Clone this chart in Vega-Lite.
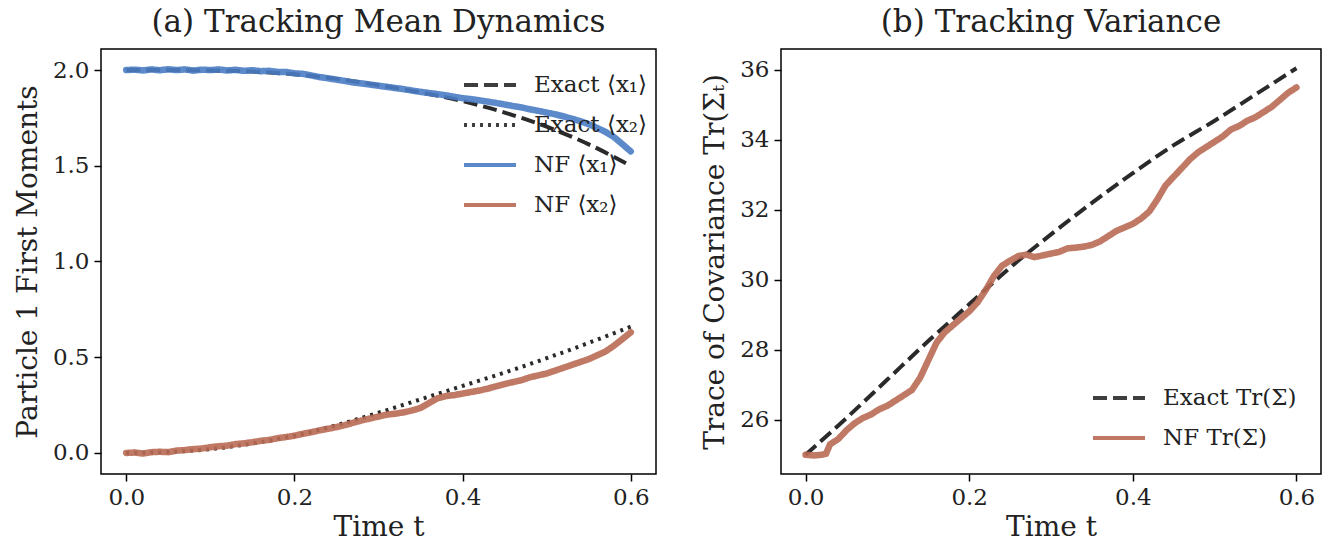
{
  "$schema": "https://vega.github.io/schema/vega-lite/v6.json",
  "background": "white",
  "padding": {"left": 13, "top": 6, "right": 5, "bottom": 0},
  "datasets": {
    "leftExact": [
      {"t": 0.0, "v": 2.0, "series": "Exact ⟨x₁⟩"},
      {"t": 0.05, "v": 2.0, "series": "Exact ⟨x₁⟩"},
      {"t": 0.1, "v": 1.998, "series": "Exact ⟨x₁⟩"},
      {"t": 0.15, "v": 1.992, "series": "Exact ⟨x₁⟩"},
      {"t": 0.2, "v": 1.978, "series": "Exact ⟨x₁⟩"},
      {"t": 0.25, "v": 1.954, "series": "Exact ⟨x₁⟩"},
      {"t": 0.3, "v": 1.921, "series": "Exact ⟨x₁⟩"},
      {"t": 0.35, "v": 1.883, "series": "Exact ⟨x₁⟩"},
      {"t": 0.4, "v": 1.838, "series": "Exact ⟨x₁⟩"},
      {"t": 0.45, "v": 1.778, "series": "Exact ⟨x₁⟩"},
      {"t": 0.5, "v": 1.704, "series": "Exact ⟨x₁⟩"},
      {"t": 0.55, "v": 1.612, "series": "Exact ⟨x₁⟩"},
      {"t": 0.6, "v": 1.5, "series": "Exact ⟨x₁⟩"},
      {"t": 0.0, "v": 0.0, "series": "Exact ⟨x₂⟩"},
      {"t": 0.05, "v": 0.005, "series": "Exact ⟨x₂⟩"},
      {"t": 0.1, "v": 0.02, "series": "Exact ⟨x₂⟩"},
      {"t": 0.15, "v": 0.05, "series": "Exact ⟨x₂⟩"},
      {"t": 0.2, "v": 0.09, "series": "Exact ⟨x₂⟩"},
      {"t": 0.25, "v": 0.145, "series": "Exact ⟨x₂⟩"},
      {"t": 0.3, "v": 0.21, "series": "Exact ⟨x₂⟩"},
      {"t": 0.35, "v": 0.28, "series": "Exact ⟨x₂⟩"},
      {"t": 0.4, "v": 0.35, "series": "Exact ⟨x₂⟩"},
      {"t": 0.45, "v": 0.42, "series": "Exact ⟨x₂⟩"},
      {"t": 0.5, "v": 0.495, "series": "Exact ⟨x₂⟩"},
      {"t": 0.55, "v": 0.575, "series": "Exact ⟨x₂⟩"},
      {"t": 0.6, "v": 0.66, "series": "Exact ⟨x₂⟩"}
    ],
    "leftNF": [
      {"t": 0.0, "v": 2.0, "series": "NF ⟨x₁⟩"},
      {"t": 0.01, "v": 2.002, "series": "NF ⟨x₁⟩"},
      {"t": 0.02, "v": 1.998, "series": "NF ⟨x₁⟩"},
      {"t": 0.03, "v": 2.003, "series": "NF ⟨x₁⟩"},
      {"t": 0.04, "v": 1.999, "series": "NF ⟨x₁⟩"},
      {"t": 0.05, "v": 2.004, "series": "NF ⟨x₁⟩"},
      {"t": 0.06, "v": 2.0, "series": "NF ⟨x₁⟩"},
      {"t": 0.07, "v": 2.003, "series": "NF ⟨x₁⟩"},
      {"t": 0.08, "v": 1.997, "series": "NF ⟨x₁⟩"},
      {"t": 0.09, "v": 2.002, "series": "NF ⟨x₁⟩"},
      {"t": 0.1, "v": 2.0, "series": "NF ⟨x₁⟩"},
      {"t": 0.11, "v": 2.003, "series": "NF ⟨x₁⟩"},
      {"t": 0.12, "v": 1.998, "series": "NF ⟨x₁⟩"},
      {"t": 0.13, "v": 2.001, "series": "NF ⟨x₁⟩"},
      {"t": 0.14, "v": 1.996, "series": "NF ⟨x₁⟩"},
      {"t": 0.15, "v": 1.999, "series": "NF ⟨x₁⟩"},
      {"t": 0.16, "v": 1.994, "series": "NF ⟨x₁⟩"},
      {"t": 0.17, "v": 1.996, "series": "NF ⟨x₁⟩"},
      {"t": 0.18, "v": 1.99, "series": "NF ⟨x₁⟩"},
      {"t": 0.19, "v": 1.99, "series": "NF ⟨x₁⟩"},
      {"t": 0.2, "v": 1.983, "series": "NF ⟨x₁⟩"},
      {"t": 0.21, "v": 1.98, "series": "NF ⟨x₁⟩"},
      {"t": 0.22, "v": 1.972, "series": "NF ⟨x₁⟩"},
      {"t": 0.23, "v": 1.963, "series": "NF ⟨x₁⟩"},
      {"t": 0.24, "v": 1.957, "series": "NF ⟨x₁⟩"},
      {"t": 0.25, "v": 1.95, "series": "NF ⟨x₁⟩"},
      {"t": 0.26, "v": 1.943, "series": "NF ⟨x₁⟩"},
      {"t": 0.27, "v": 1.935, "series": "NF ⟨x₁⟩"},
      {"t": 0.28, "v": 1.93, "series": "NF ⟨x₁⟩"},
      {"t": 0.29, "v": 1.924, "series": "NF ⟨x₁⟩"},
      {"t": 0.3, "v": 1.918, "series": "NF ⟨x₁⟩"},
      {"t": 0.31, "v": 1.912, "series": "NF ⟨x₁⟩"},
      {"t": 0.32, "v": 1.906, "series": "NF ⟨x₁⟩"},
      {"t": 0.33, "v": 1.9, "series": "NF ⟨x₁⟩"},
      {"t": 0.34, "v": 1.893, "series": "NF ⟨x₁⟩"},
      {"t": 0.35, "v": 1.886, "series": "NF ⟨x₁⟩"},
      {"t": 0.36, "v": 1.88, "series": "NF ⟨x₁⟩"},
      {"t": 0.37, "v": 1.874, "series": "NF ⟨x₁⟩"},
      {"t": 0.38, "v": 1.868, "series": "NF ⟨x₁⟩"},
      {"t": 0.39, "v": 1.86, "series": "NF ⟨x₁⟩"},
      {"t": 0.4, "v": 1.853, "series": "NF ⟨x₁⟩"},
      {"t": 0.41, "v": 1.848, "series": "NF ⟨x₁⟩"},
      {"t": 0.42, "v": 1.842, "series": "NF ⟨x₁⟩"},
      {"t": 0.43, "v": 1.835, "series": "NF ⟨x₁⟩"},
      {"t": 0.44, "v": 1.828, "series": "NF ⟨x₁⟩"},
      {"t": 0.45, "v": 1.82, "series": "NF ⟨x₁⟩"},
      {"t": 0.46, "v": 1.812, "series": "NF ⟨x₁⟩"},
      {"t": 0.47, "v": 1.805, "series": "NF ⟨x₁⟩"},
      {"t": 0.48, "v": 1.795, "series": "NF ⟨x₁⟩"},
      {"t": 0.49, "v": 1.787, "series": "NF ⟨x₁⟩"},
      {"t": 0.5, "v": 1.778, "series": "NF ⟨x₁⟩"},
      {"t": 0.51, "v": 1.769, "series": "NF ⟨x₁⟩"},
      {"t": 0.52, "v": 1.758, "series": "NF ⟨x₁⟩"},
      {"t": 0.53, "v": 1.746, "series": "NF ⟨x₁⟩"},
      {"t": 0.54, "v": 1.733, "series": "NF ⟨x₁⟩"},
      {"t": 0.55, "v": 1.717, "series": "NF ⟨x₁⟩"},
      {"t": 0.56, "v": 1.698, "series": "NF ⟨x₁⟩"},
      {"t": 0.57, "v": 1.677, "series": "NF ⟨x₁⟩"},
      {"t": 0.58, "v": 1.65, "series": "NF ⟨x₁⟩"},
      {"t": 0.59, "v": 1.613, "series": "NF ⟨x₁⟩"},
      {"t": 0.6, "v": 1.575, "series": "NF ⟨x₁⟩"},
      {"t": 0.0, "v": 0.0, "series": "NF ⟨x₂⟩"},
      {"t": 0.01, "v": 0.002, "series": "NF ⟨x₂⟩"},
      {"t": 0.02, "v": -0.003, "series": "NF ⟨x₂⟩"},
      {"t": 0.03, "v": 0.004, "series": "NF ⟨x₂⟩"},
      {"t": 0.04, "v": 0.006, "series": "NF ⟨x₂⟩"},
      {"t": 0.05, "v": 0.004, "series": "NF ⟨x₂⟩"},
      {"t": 0.06, "v": 0.012, "series": "NF ⟨x₂⟩"},
      {"t": 0.07, "v": 0.015, "series": "NF ⟨x₂⟩"},
      {"t": 0.08, "v": 0.02, "series": "NF ⟨x₂⟩"},
      {"t": 0.09, "v": 0.023, "series": "NF ⟨x₂⟩"},
      {"t": 0.1, "v": 0.03, "series": "NF ⟨x₂⟩"},
      {"t": 0.11, "v": 0.035, "series": "NF ⟨x₂⟩"},
      {"t": 0.12, "v": 0.038, "series": "NF ⟨x₂⟩"},
      {"t": 0.13, "v": 0.046, "series": "NF ⟨x₂⟩"},
      {"t": 0.14, "v": 0.05, "series": "NF ⟨x₂⟩"},
      {"t": 0.15, "v": 0.056, "series": "NF ⟨x₂⟩"},
      {"t": 0.16, "v": 0.063, "series": "NF ⟨x₂⟩"},
      {"t": 0.17, "v": 0.068, "series": "NF ⟨x₂⟩"},
      {"t": 0.18, "v": 0.077, "series": "NF ⟨x₂⟩"},
      {"t": 0.19, "v": 0.083, "series": "NF ⟨x₂⟩"},
      {"t": 0.2, "v": 0.09, "series": "NF ⟨x₂⟩"},
      {"t": 0.21, "v": 0.1, "series": "NF ⟨x₂⟩"},
      {"t": 0.22, "v": 0.108, "series": "NF ⟨x₂⟩"},
      {"t": 0.23, "v": 0.118, "series": "NF ⟨x₂⟩"},
      {"t": 0.24, "v": 0.126, "series": "NF ⟨x₂⟩"},
      {"t": 0.25, "v": 0.135, "series": "NF ⟨x₂⟩"},
      {"t": 0.26, "v": 0.145, "series": "NF ⟨x₂⟩"},
      {"t": 0.27, "v": 0.158, "series": "NF ⟨x₂⟩"},
      {"t": 0.28, "v": 0.17, "series": "NF ⟨x₂⟩"},
      {"t": 0.29, "v": 0.18, "series": "NF ⟨x₂⟩"},
      {"t": 0.3, "v": 0.19, "series": "NF ⟨x₂⟩"},
      {"t": 0.31, "v": 0.2, "series": "NF ⟨x₂⟩"},
      {"t": 0.32, "v": 0.205, "series": "NF ⟨x₂⟩"},
      {"t": 0.33, "v": 0.212, "series": "NF ⟨x₂⟩"},
      {"t": 0.34, "v": 0.222, "series": "NF ⟨x₂⟩"},
      {"t": 0.35, "v": 0.235, "series": "NF ⟨x₂⟩"},
      {"t": 0.36, "v": 0.26, "series": "NF ⟨x₂⟩"},
      {"t": 0.37, "v": 0.285, "series": "NF ⟨x₂⟩"},
      {"t": 0.38, "v": 0.297, "series": "NF ⟨x₂⟩"},
      {"t": 0.39, "v": 0.302, "series": "NF ⟨x₂⟩"},
      {"t": 0.4, "v": 0.31, "series": "NF ⟨x₂⟩"},
      {"t": 0.41, "v": 0.318, "series": "NF ⟨x₂⟩"},
      {"t": 0.42, "v": 0.326, "series": "NF ⟨x₂⟩"},
      {"t": 0.43, "v": 0.336, "series": "NF ⟨x₂⟩"},
      {"t": 0.44, "v": 0.348, "series": "NF ⟨x₂⟩"},
      {"t": 0.45, "v": 0.36, "series": "NF ⟨x₂⟩"},
      {"t": 0.46, "v": 0.37, "series": "NF ⟨x₂⟩"},
      {"t": 0.47, "v": 0.38, "series": "NF ⟨x₂⟩"},
      {"t": 0.48, "v": 0.395, "series": "NF ⟨x₂⟩"},
      {"t": 0.49, "v": 0.405, "series": "NF ⟨x₂⟩"},
      {"t": 0.5, "v": 0.415, "series": "NF ⟨x₂⟩"},
      {"t": 0.51, "v": 0.43, "series": "NF ⟨x₂⟩"},
      {"t": 0.52, "v": 0.445, "series": "NF ⟨x₂⟩"},
      {"t": 0.53, "v": 0.46, "series": "NF ⟨x₂⟩"},
      {"t": 0.54, "v": 0.475, "series": "NF ⟨x₂⟩"},
      {"t": 0.55, "v": 0.49, "series": "NF ⟨x₂⟩"},
      {"t": 0.56, "v": 0.51, "series": "NF ⟨x₂⟩"},
      {"t": 0.57, "v": 0.53, "series": "NF ⟨x₂⟩"},
      {"t": 0.58, "v": 0.56, "series": "NF ⟨x₂⟩"},
      {"t": 0.59, "v": 0.595, "series": "NF ⟨x₂⟩"},
      {"t": 0.6, "v": 0.63, "series": "NF ⟨x₂⟩"}
    ],
    "rightExact": [
      {"t": 0.0, "v": 25.0, "series": "Exact Tr(Σ)"},
      {"t": 0.05, "v": 26.05, "series": "Exact Tr(Σ)"},
      {"t": 0.1, "v": 27.15, "series": "Exact Tr(Σ)"},
      {"t": 0.15, "v": 28.25, "series": "Exact Tr(Σ)"},
      {"t": 0.2, "v": 29.3, "series": "Exact Tr(Σ)"},
      {"t": 0.25, "v": 30.35, "series": "Exact Tr(Σ)"},
      {"t": 0.3, "v": 31.3, "series": "Exact Tr(Σ)"},
      {"t": 0.35, "v": 32.2, "series": "Exact Tr(Σ)"},
      {"t": 0.4, "v": 33.05, "series": "Exact Tr(Σ)"},
      {"t": 0.45, "v": 33.85, "series": "Exact Tr(Σ)"},
      {"t": 0.5, "v": 34.55, "series": "Exact Tr(Σ)"},
      {"t": 0.55, "v": 35.3, "series": "Exact Tr(Σ)"},
      {"t": 0.6, "v": 36.05, "series": "Exact Tr(Σ)"}
    ],
    "rightNF": [
      {"t": 0.0, "v": 25.0, "series": "NF Tr(Σ)"},
      {"t": 0.01, "v": 24.98, "series": "NF Tr(Σ)"},
      {"t": 0.02, "v": 25.0, "series": "NF Tr(Σ)"},
      {"t": 0.025, "v": 25.03, "series": "NF Tr(Σ)"},
      {"t": 0.03, "v": 25.3, "series": "NF Tr(Σ)"},
      {"t": 0.04, "v": 25.45, "series": "NF Tr(Σ)"},
      {"t": 0.05, "v": 25.7, "series": "NF Tr(Σ)"},
      {"t": 0.06, "v": 25.9, "series": "NF Tr(Σ)"},
      {"t": 0.07, "v": 26.05, "series": "NF Tr(Σ)"},
      {"t": 0.08, "v": 26.15, "series": "NF Tr(Σ)"},
      {"t": 0.09, "v": 26.3, "series": "NF Tr(Σ)"},
      {"t": 0.1, "v": 26.4, "series": "NF Tr(Σ)"},
      {"t": 0.11, "v": 26.55, "series": "NF Tr(Σ)"},
      {"t": 0.12, "v": 26.7, "series": "NF Tr(Σ)"},
      {"t": 0.13, "v": 26.85, "series": "NF Tr(Σ)"},
      {"t": 0.14, "v": 27.2, "series": "NF Tr(Σ)"},
      {"t": 0.15, "v": 27.7, "series": "NF Tr(Σ)"},
      {"t": 0.16, "v": 28.2, "series": "NF Tr(Σ)"},
      {"t": 0.17, "v": 28.5, "series": "NF Tr(Σ)"},
      {"t": 0.18, "v": 28.7, "series": "NF Tr(Σ)"},
      {"t": 0.19, "v": 28.9, "series": "NF Tr(Σ)"},
      {"t": 0.2, "v": 29.1, "series": "NF Tr(Σ)"},
      {"t": 0.21, "v": 29.35, "series": "NF Tr(Σ)"},
      {"t": 0.22, "v": 29.7, "series": "NF Tr(Σ)"},
      {"t": 0.23, "v": 30.1, "series": "NF Tr(Σ)"},
      {"t": 0.24, "v": 30.4, "series": "NF Tr(Σ)"},
      {"t": 0.25, "v": 30.55, "series": "NF Tr(Σ)"},
      {"t": 0.26, "v": 30.68, "series": "NF Tr(Σ)"},
      {"t": 0.27, "v": 30.72, "series": "NF Tr(Σ)"},
      {"t": 0.28, "v": 30.65, "series": "NF Tr(Σ)"},
      {"t": 0.29, "v": 30.7, "series": "NF Tr(Σ)"},
      {"t": 0.3, "v": 30.75, "series": "NF Tr(Σ)"},
      {"t": 0.31, "v": 30.8, "series": "NF Tr(Σ)"},
      {"t": 0.32, "v": 30.9, "series": "NF Tr(Σ)"},
      {"t": 0.33, "v": 30.92, "series": "NF Tr(Σ)"},
      {"t": 0.34, "v": 30.95, "series": "NF Tr(Σ)"},
      {"t": 0.35, "v": 31.0, "series": "NF Tr(Σ)"},
      {"t": 0.36, "v": 31.1, "series": "NF Tr(Σ)"},
      {"t": 0.37, "v": 31.25, "series": "NF Tr(Σ)"},
      {"t": 0.38, "v": 31.4, "series": "NF Tr(Σ)"},
      {"t": 0.39, "v": 31.5, "series": "NF Tr(Σ)"},
      {"t": 0.4, "v": 31.6, "series": "NF Tr(Σ)"},
      {"t": 0.41, "v": 31.75, "series": "NF Tr(Σ)"},
      {"t": 0.42, "v": 31.95, "series": "NF Tr(Σ)"},
      {"t": 0.43, "v": 32.3, "series": "NF Tr(Σ)"},
      {"t": 0.44, "v": 32.7, "series": "NF Tr(Σ)"},
      {"t": 0.45, "v": 32.95, "series": "NF Tr(Σ)"},
      {"t": 0.46, "v": 33.2, "series": "NF Tr(Σ)"},
      {"t": 0.47, "v": 33.45, "series": "NF Tr(Σ)"},
      {"t": 0.48, "v": 33.65, "series": "NF Tr(Σ)"},
      {"t": 0.49, "v": 33.8, "series": "NF Tr(Σ)"},
      {"t": 0.5, "v": 33.95, "series": "NF Tr(Σ)"},
      {"t": 0.51, "v": 34.1, "series": "NF Tr(Σ)"},
      {"t": 0.52, "v": 34.3, "series": "NF Tr(Σ)"},
      {"t": 0.53, "v": 34.4, "series": "NF Tr(Σ)"},
      {"t": 0.54, "v": 34.55, "series": "NF Tr(Σ)"},
      {"t": 0.55, "v": 34.65, "series": "NF Tr(Σ)"},
      {"t": 0.56, "v": 34.8, "series": "NF Tr(Σ)"},
      {"t": 0.57, "v": 34.95, "series": "NF Tr(Σ)"},
      {"t": 0.58, "v": 35.15, "series": "NF Tr(Σ)"},
      {"t": 0.59, "v": 35.35, "series": "NF Tr(Σ)"},
      {"t": 0.6, "v": 35.5, "series": "NF Tr(Σ)"}
    ]
  },
  "hconcat": [
    {
      "width": 555,
      "height": 425,
      "title": {"text": "(a) Tracking Mean Dynamics", "offset": 10},
      "encoding": {
        "x": {"field": "t", "type": "quantitative", "title": "Time t",
              "scale": {"domain": [-0.03, 0.63], "nice": false, "zero": false},
              "axis": {"values": [0, 0.2, 0.4, 0.6], "format": ".1f", "titlePadding": 4}},
        "y": {"field": "v", "type": "quantitative", "title": "Particle 1 First Moments",
              "scale": {"domain": [-0.11, 2.11], "nice": false, "zero": false},
              "axis": {"values": [0, 0.5, 1, 1.5, 2], "format": ".1f"}},
        "color": {"field": "series", "type": "nominal",
                  "scale": {"domain": ["Exact ⟨x₁⟩", "Exact ⟨x₂⟩", "NF ⟨x₁⟩", "NF ⟨x₂⟩"],
                            "range": ["#2a2a2a", "#2a2a2a", "#4a7cc4", "#b96a54"]},
                  "legend": {"title": null, "orient": "top-right", "offset": 4}},
        "strokeDash": {"field": "series", "type": "nominal",
                       "scale": {"domain": ["Exact ⟨x₁⟩", "Exact ⟨x₂⟩", "NF ⟨x₁⟩", "NF ⟨x₂⟩"],
                                 "range": [[14, 6], [3, 5], [1, 0], [1, 0]]},
                       "legend": {"title": null, "orient": "top-right", "offset": 4}}
      },
      "layer": [
        {"data": {"name": "leftExact"}, "mark": {"type": "line", "strokeWidth": 4, "interpolate": "monotone"}},
        {"data": {"name": "leftNF"}, "mark": {"type": "line", "strokeWidth": 6.5, "opacity": 0.9, "strokeCap": "round"}}
      ]
    },
    {
      "width": 540,
      "height": 425,
      "title": {"text": "(b) Tracking Variance", "offset": 10},
      "encoding": {
        "x": {"field": "t", "type": "quantitative", "title": "Time t",
              "scale": {"domain": [-0.03, 0.63], "nice": false, "zero": false},
              "axis": {"values": [0, 0.2, 0.4, 0.6], "format": ".1f", "titlePadding": 4}},
        "y": {"field": "v", "type": "quantitative", "title": "Trace of Covariance Tr(Σₜ)",
              "scale": {"domain": [24.45, 36.6], "nice": false, "zero": false},
              "axis": {"values": [26, 28, 30, 32, 34, 36], "format": "d"}},
        "color": {"field": "series", "type": "nominal",
                  "scale": {"domain": ["Exact Tr(Σ)", "NF Tr(Σ)"], "range": ["#2a2a2a", "#b96a54"]},
                  "legend": {"title": null, "orient": "bottom-right", "offset": 20}},
        "strokeDash": {"field": "series", "type": "nominal",
                       "scale": {"domain": ["Exact Tr(Σ)", "NF Tr(Σ)"], "range": [[14, 6], [1, 0]]},
                       "legend": {"title": null, "orient": "bottom-right", "offset": 20}}
      },
      "layer": [
        {"data": {"name": "rightExact"}, "mark": {"type": "line", "strokeWidth": 4, "interpolate": "monotone"}},
        {"data": {"name": "rightNF"}, "mark": {"type": "line", "strokeWidth": 6.5, "opacity": 0.9, "strokeCap": "round"}}
      ]
    }
  ],
  "resolve": {"scale": {"color": "independent", "strokeDash": "independent"}, "legend": {"color": "independent", "strokeDash": "independent"}},
  "spacing": 43,
  "config": {
    "font": "DejaVu Serif",
    "view": {"stroke": "#000", "strokeWidth": 1.5},
    "axis": {"domain": false, "grid": false, "tickColor": "#000", "tickWidth": 1.5, "tickSize": 7,
             "labelFontSize": 23, "labelColor": "#222", "labelPadding": 5,
             "titleFontSize": 28, "titleFontWeight": "normal", "titleColor": "#222", "titlePadding": 10},
    "title": {"fontSize": 31, "fontWeight": "normal", "color": "#222"},
    "legend": {"labelFontSize": 23, "labelColor": "#222", "symbolType": "stroke", "symbolSize": 2700,
               "symbolStrokeWidth": 4, "rowPadding": -13, "labelOffset": 16, "padding": 4}
  }
}
